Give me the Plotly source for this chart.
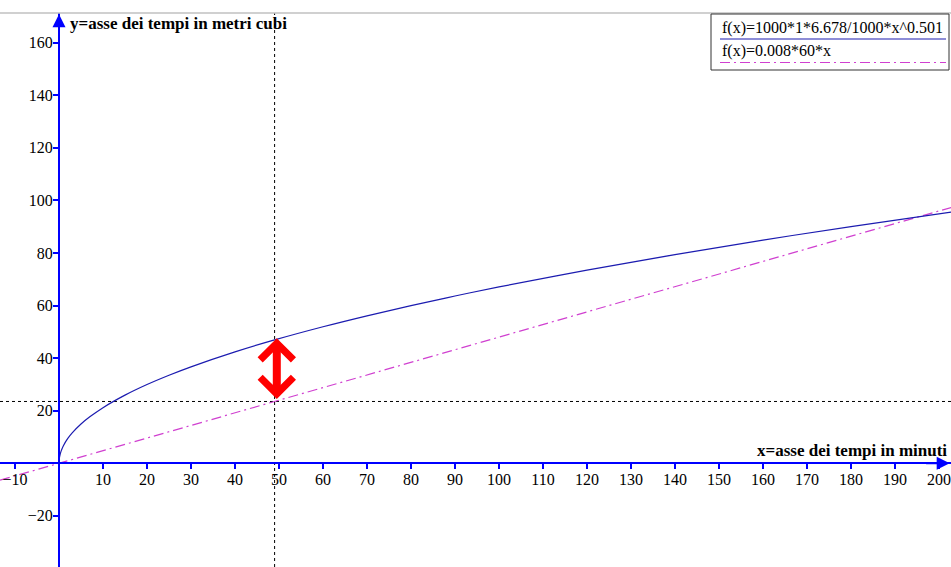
import plotly.graph_objects as go

# ---- data ----
curve_x = [0, 0.1, 0.25, 0.5, 1, 2, 3, 5, 7, 10, 15, 20, 25, 30, 40, 49, 60, 70, 80,
           90, 100, 120, 140, 160, 180, 203]
curve_y = [0, 2.11, 3.34, 4.72, 6.68, 9.45, 11.57, 14.94, 17.67, 21.17, 25.93, 29.96,
           33.50, 36.70, 42.39, 46.93, 51.94, 56.11, 59.99, 63.64, 67.09, 73.50, 79.41,
           84.90, 90.06, 95.65]
line_x = [-13.4, 203]
line_y = [-6.43, 97.44]
guide_x = 49
guide_y = 23.52
arrow_top = 47.6
arrow_bottom = 23.9
x_ticks = [-10, 10, 20, 30, 40, 50, 60, 70, 80, 90, 100, 110, 120, 130, 140, 150,
           160, 170, 180, 190, 200]
y_ticks = [-40, -20, 20, 40, 60, 80, 100, 120, 140, 160]
legend_labels = ["f(x)=1000*1*6.678/1000*x^0.501", "f(x)=0.008*60*x"]
x_label = "x=asse dei tempi in minuti"
y_label = "y=asse dei tempi in metri cubi"

X_RANGE = [-13.41, 202.73]
Y_RANGE = [-39.45, 171.3]

AXIS_BLUE = "#0000ff"
CURVE_BLUE = "#1c1cb0"
MAGENTA = "#d040d0"
SERIF = "Liberation Serif, Times New Roman, serif"

fig = go.Figure()

# dotted guide lines
fig.add_trace(go.Scatter(x=X_RANGE, y=[guide_y, guide_y], mode="lines",
                         line=dict(color="black", width=1, dash="dot"),
                         hoverinfo="skip", showlegend=False))
fig.add_trace(go.Scatter(x=[guide_x, guide_x], y=Y_RANGE, mode="lines",
                         line=dict(color="black", width=1, dash="dot"),
                         hoverinfo="skip", showlegend=False))

fig.add_trace(go.Scatter(x=line_x, y=line_y, mode="lines",
                         line=dict(color=MAGENTA, width=1.2, dash="10px,4px,2px,4px"),
                         name=legend_labels[1], showlegend=False))
fig.add_trace(go.Scatter(x=curve_x, y=curve_y, mode="lines",
                         line=dict(color=CURVE_BLUE, width=1.2, shape="spline"),
                         name=legend_labels[0], showlegend=False))

xpos = (0 - Y_RANGE[0]) / (Y_RANGE[1] - Y_RANGE[0])
ypos = (0 - X_RANGE[0]) / (X_RANGE[1] - X_RANGE[0])

fig.update_layout(
    width=951, height=567,
    margin=dict(l=0, r=0, t=13, b=0),
    paper_bgcolor="white", plot_bgcolor="white",
    showlegend=False,
    xaxis=dict(range=X_RANGE, anchor="free", position=xpos, showgrid=False,
               zeroline=False, showline=True, linecolor=AXIS_BLUE, linewidth=2,
               tickmode="array", tickvals=x_ticks, ticks="outside", ticklen=5,
               tickwidth=1.5, tickcolor=AXIS_BLUE, ticklabelstandoff=-3,
               tickfont=dict(family=SERIF, size=16, color="black")),
    yaxis=dict(range=Y_RANGE, anchor="free", position=ypos, showgrid=False,
               zeroline=False, showline=True, linecolor=AXIS_BLUE, linewidth=2,
               tickmode="array", tickvals=y_ticks, ticks="outside", ticklen=5,
               tickwidth=1.5, tickcolor=AXIS_BLUE, ticklabelstandoff=-3,
               tickfont=dict(family=SERIF, size=16, color="black")),
)

shapes = []
# top grey rule
shapes.append(dict(type="line", xref="paper", yref="paper", x0=0, x1=1, y0=1, y1=1,
                   line=dict(color="#c0c0c0", width=1.5)))
# legend box (pixel-based in paper coords)
H = 567 - 13
def py(pix):
    return 1 - (pix - 13) / H
def px(pix):
    return pix / 951
shapes.append(dict(type="rect", xref="paper", yref="paper",
                   x0=px(711), x1=px(949), y0=py(70), y1=py(14),
                   line=dict(color="#333333", width=1), fillcolor="white", layer="above"))
shapes.append(dict(type="line", xref="paper", yref="paper",
                   x0=px(720), x1=px(946), y0=py(39), y1=py(39),
                   line=dict(color=CURVE_BLUE, width=1.2), layer="above"))
shapes.append(dict(type="line", xref="paper", yref="paper",
                   x0=px(720), x1=px(946), y0=py(62.5), y1=py(62.5),
                   line=dict(color=MAGENTA, width=1.2, dash="10px,4px,2px,4px"), layer="above"))
fig.update_layout(shapes=shapes)

ann = []
ann.append(dict(xref="paper", yref="paper", x=px(720), y=py(28), text=legend_labels[0],
                showarrow=False, xanchor="left", yanchor="middle",
                font=dict(family=SERIF, size=16, color="black")))
ann.append(dict(xref="paper", yref="paper", x=px(720), y=py(51), text=legend_labels[1],
                showarrow=False, xanchor="left", yanchor="middle",
                font=dict(family=SERIF, size=16, color="black")))
ann.append(dict(xref="paper", yref="paper", x=px(68), y=py(23), text="<b>" + y_label + "</b>",
                showarrow=False, xanchor="left", yanchor="middle",
                font=dict(family=SERIF, size=17, color="black")))
ann.append(dict(xref="paper", yref="paper", x=px(949), y=py(450), text="<b>" + x_label + "</b>",
                showarrow=False, xanchor="right", yanchor="middle",
                font=dict(family=SERIF, size=17, color="black")))
# axis arrowheads
ann.append(dict(x=0, y=Y_RANGE[1] - 0.5, ax=0, ay=Y_RANGE[1] - 8, xref="x", yref="y",
                axref="x", ayref="y", text="", showarrow=True, arrowhead=2,
                arrowsize=1.3, arrowwidth=2, arrowcolor=AXIS_BLUE, standoff=0))
ann.append(dict(x=X_RANGE[1] - 0.3, y=0, ax=X_RANGE[1] - 6, ay=0, xref="x", yref="y",
                axref="x", ayref="y", text="", showarrow=True, arrowhead=2,
                arrowsize=1.3, arrowwidth=2, arrowcolor=AXIS_BLUE, standoff=0))
# red double arrow
ann.append(dict(x=guide_x + 0.5, y=arrow_top, ax=guide_x + 0.5, ay=arrow_bottom,
                xref="x", yref="y", axref="x", ayref="y", text="", showarrow=True,
                arrowside="end+start", arrowhead=4, startarrowhead=4,
                arrowsize=0.8, startarrowsize=0.8, arrowwidth=8,
                arrowcolor="#ff0000", standoff=0, startstandoff=0))
fig.update_layout(annotations=ann)

fig.write_html("out.html", config={"displayModeBar": False},
               post_script="document.body.style.margin='0px';document.body.style.overflow='hidden';")
